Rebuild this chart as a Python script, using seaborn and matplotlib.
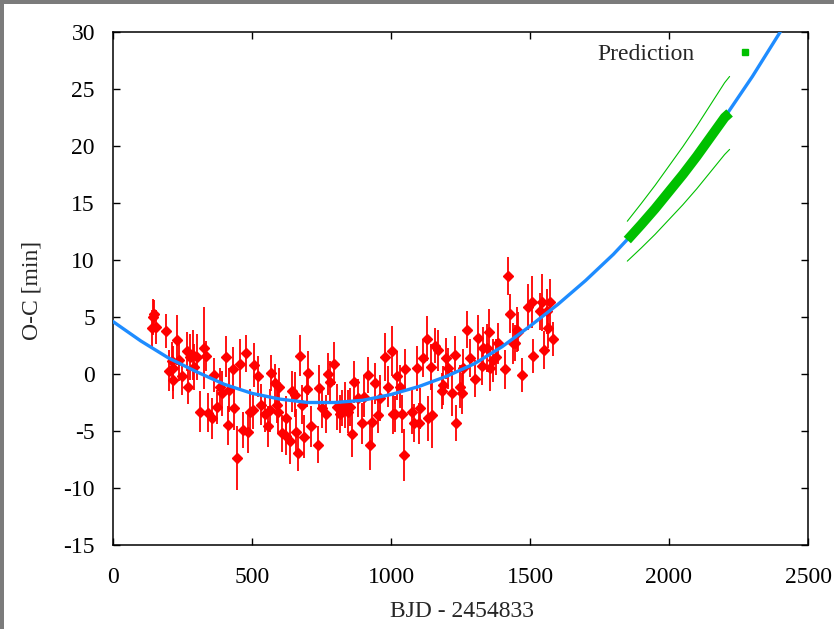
import matplotlib
matplotlib.use("Agg")
import matplotlib.pyplot as plt
import seaborn as sns
import pandas as pd
from matplotlib.lines import Line2D
from matplotlib.patches import Rectangle

# observed O-C values (BJD - 2454833, minutes, error)
obs_x = [140, 144, 148, 155, 191, 203, 211, 215, 217, 229, 238, 247, 265, 271, 277, 289, 292, 303,
         313, 327, 335, 343, 355, 363, 373, 385, 391, 406, 415, 418, 430, 435, 447, 457, 469, 478,
         487, 493, 502, 508, 523, 531, 547, 557, 565, 568, 583, 589, 595, 597, 609, 621, 624, 637,
         643, 655, 657, 667, 673, 681, 688, 697, 700, 714, 738, 742, 750, 765, 774, 781, 796, 804,
         817, 825, 834, 844, 852, 861, 868, 880, 894, 904, 918, 924, 933, 942, 954, 960, 978, 990,
         1005, 1008, 1014, 1020, 1032, 1038, 1047, 1050, 1074, 1083, 1092, 1102, 1104, 1114, 1128,
         1134, 1143, 1146, 1158, 1170, 1182, 1188, 1198, 1206, 1218, 1230, 1234, 1248, 1254, 1260,
         1275, 1284, 1302, 1314, 1326, 1332, 1344, 1354, 1356, 1368, 1378, 1386, 1410, 1422, 1428,
         1440, 1446, 1452, 1458, 1470, 1494, 1506, 1512, 1536, 1542, 1551, 1562, 1566, 1572, 1584]
obs_y = [4.0, 5.0, 5.3, 4.1, 3.8, 0.3, 1.1, -0.5, 0.5, 3.0, 1.2, -0.2, 2.0, -1.1, 1.5, 1.7, 0.6, 1.5,
         -3.3, 2.3, 1.6, -3.4, -3.9, -0.1, -2.9, -1.1, -1.7, 1.5, -4.5, -1.4, 0.4, -3.0, -7.4, 0.9, -4.9, 1.8,
         -5.1, -3.3, -3.2, 0.8, -0.2, -2.7, -3.5, -4.6, -3.2, 0.1, -0.8, -2.7, -3.3, -1.1, -5.2, -5.4, -3.9, -5.9,
         -1.5, -1.8, -5.1, -6.9, 1.6, -2.7, -5.5, -1.3, 0.1, -4.6, -6.2, -1.2, -3.0, -3.5, 0.0, -0.7, 0.9, -2.9,
         -3.5, -3.0, -2.7, -3.3, -2.9, -5.3, -0.7, -2.1, -4.3, -2.0, -0.1, -6.2, -4.2, -0.8, -3.6, -2.1, 1.5, -1.1,
         2.0, -3.5, -3.5, -0.2, -1.1, -3.5, -7.1, 0.4, -3.3, -4.3, 0.5, -4.3, -3.0, 1.4, 3.1,
         -3.9, 0.6, -3.6, 2.5, 2.1, -1.5, -1.0, 1.4, 0.5, -1.7, 1.7, -4.3, -1.1, -1.7, 0.5,
         3.9, 1.4, -0.4, 3.2, 0.7, 2.3, 2.3, 3.7, 0.5, 1.2, 1.5, 2.7, 0.4, 8.6, 5.3,
         2.7, 2.7, 3.9, 3.7, -0.1, 5.9, 6.3, 1.6, 5.5, 6.3, 2.1, 5.5, 4.0, 6.3, 3.1]
obs_err = [1.6, 1.6, 1.2, 1.5, 1.5, 1.8, 1.7, 1.7, 2.0, 2.2, 1.8, 1.6, 1.7, 1.5, 2.0, 2.2, 2.0, 2.0,
           1.8, 3.6, 1.3, 1.7, 1.8, 1.5, 1.5, 1.6, 2.0, 1.8, 1.7, 1.9, 2.0, 1.9, 2.8, 2.2, 1.6, 1.6,
           1.8, 2.0, 1.6, 1.9, 1.8, 1.8, 1.6, 1.8, 1.9, 1.6, 1.7, 1.6, 1.9, 1.6, 1.6, 1.7, 2.0, 2.0,
           1.8, 2.0, 2.0, 1.6, 1.8, 1.7, 1.9, 1.6, 1.9, 1.8, 1.6, 2.0, 1.7, 1.7, 1.8, 1.8, 1.9, 2.0,
           1.7, 1.6, 2.0, 1.9, 1.7, 2.0, 1.8, 1.7, 1.8, 1.8, 1.6, 2.2, 2.0, 1.8, 1.6, 2.0, 2.1, 1.8,
           2.2, 1.8, 1.6, 2.1, 1.9, 1.7, 2.3, 1.8, 2.0, 1.7, 2.0, 1.8, 1.8, 1.7, 2.0,
           2.0, 2.0, 2.9, 1.5, 1.8, 1.6, 1.7, 1.8, 1.8, 2.0, 1.6, 1.6, 1.9, 1.8, 1.7,
           1.6, 1.7, 1.6, 2.0, 1.7, 1.8, 2.1, 2.0, 2.0, 1.9, 1.6, 1.8, 1.7, 1.7, 1.7,
           1.8, 1.6, 2.0, 1.7, 1.5, 2.0, 2.3, 1.5, 1.6, 2.5, 1.7, 2.0, 1.7, 2.0, 1.5]

# fitted quadratic ephemeris
model_x = [0, 100, 200, 300, 400, 500, 600, 700, 800, 900, 1000, 1100, 1200, 1300, 1400, 1500,
           1600, 1700, 1800, 1900, 2000, 2100, 2200, 2300, 2400]
model_y = [4.6, 2.9, 1.4, 0.2, -0.9, -1.7, -2.2, -2.5, -2.5, -2.3, -1.8, -1.1, -0.2, 0.9, 2.4, 4.2,
           6.1, 8.2, 10.5, 13.1, 16.0, 19.1, 22.5, 26.1, 30.0]

# prediction band
pred_x = [1850, 1900, 1950, 2000, 2050, 2100, 2150, 2200, 2218]
pred_y = [11.75, 13.1, 14.5, 16.0, 17.5, 19.1, 20.8, 22.5, 22.9]
pred_hi = [13.4, 14.95, 16.55, 18.25, 19.95, 21.75, 23.65, 25.55, 26.1]
pred_lo = [9.9, 11.05, 12.25, 13.55, 14.85, 16.25, 17.75, 19.25, 19.7]

obs = pd.DataFrame({"x": obs_x, "y": obs_y, "err": obs_err})
model = pd.DataFrame({"x": model_x, "y": model_y})
pred = pd.DataFrame({"x": pred_x, "y": pred_y, "hi": pred_hi, "lo": pred_lo})

sns.set_style("ticks")
plt.rcParams['font.family'] = ['Liberation Serif', 'DejaVu Serif']
plt.rcParams['axes.unicode_minus'] = False

RED = "#ff0000"
BLUE = "#1e8cff"
GREEN = "#00c000"
FRAME = "#7b7b7b"
FS = 17

fig = plt.figure(figsize=(8.34, 6.29), dpi=100, facecolor="white")
# grey screenshot border along top and left
fig.patches.append(Rectangle((0, 1 - 4 / 629), 1, 4 / 629, transform=fig.transFigure,
                             facecolor=FRAME, edgecolor="none"))
fig.patches.append(Rectangle((0, 0), 4 / 834, 1, transform=fig.transFigure,
                             facecolor=FRAME, edgecolor="none"))
ax = fig.add_axes([113 / 834, 1 - 545 / 629, 695 / 834, 513 / 629])
ax.set_zorder(2)

ax.errorbar(obs["x"], obs["y"], yerr=obs["err"], fmt="D", color=RED, ms=5.5,
            elinewidth=1.3, capsize=0, zorder=2)
sns.lineplot(data=model, x="x", y="y", color=BLUE, lw=2.4, ax=ax, zorder=3)
sns.lineplot(data=pred, x="x", y="hi", color=GREEN, lw=0.8, ax=ax, zorder=4)
sns.lineplot(data=pred, x="x", y="lo", color=GREEN, lw=0.8, ax=ax, zorder=4)
sns.lineplot(data=pred, x="x", y="y", color=GREEN, lw=7, ax=ax, zorder=5,
             solid_capstyle="butt")

ax.set_xlim(0, 2500)
ax.set_ylim(-15, 30)
ax.set_xticks(range(0, 2501, 500))
ax.set_yticks(range(-15, 31, 5))
ax.tick_params(direction="in", length=5, width=1, top=True, right=True,
               labelsize=FS, colors="black")
ax.tick_params(axis="x", pad=16)
ax.tick_params(axis="y", pad=13)
for s in ax.spines.values():
    s.set_linewidth(1.1)
    s.set_color("black")

ax.set_xlabel("BJD - 2454833", fontsize=FS)
ax.set_ylabel("O-C [min]", fontsize=FS)
ax.xaxis.set_label_coords(0.502, -0.11)
ax.yaxis.set_label_coords(-0.102, 0.497)

handle = Line2D([], [], color=GREEN, marker="s", ms=4.5, lw=0)
ax.legend([handle], ["Prediction"], loc="upper right", frameon=False, fontsize=FS,
          markerfirst=False, handlelength=1.0, handletextpad=1.66,
          bbox_to_anchor=(0.957, 1.0195))

fig.savefig("out.png", dpi=100, facecolor=fig.get_facecolor())
